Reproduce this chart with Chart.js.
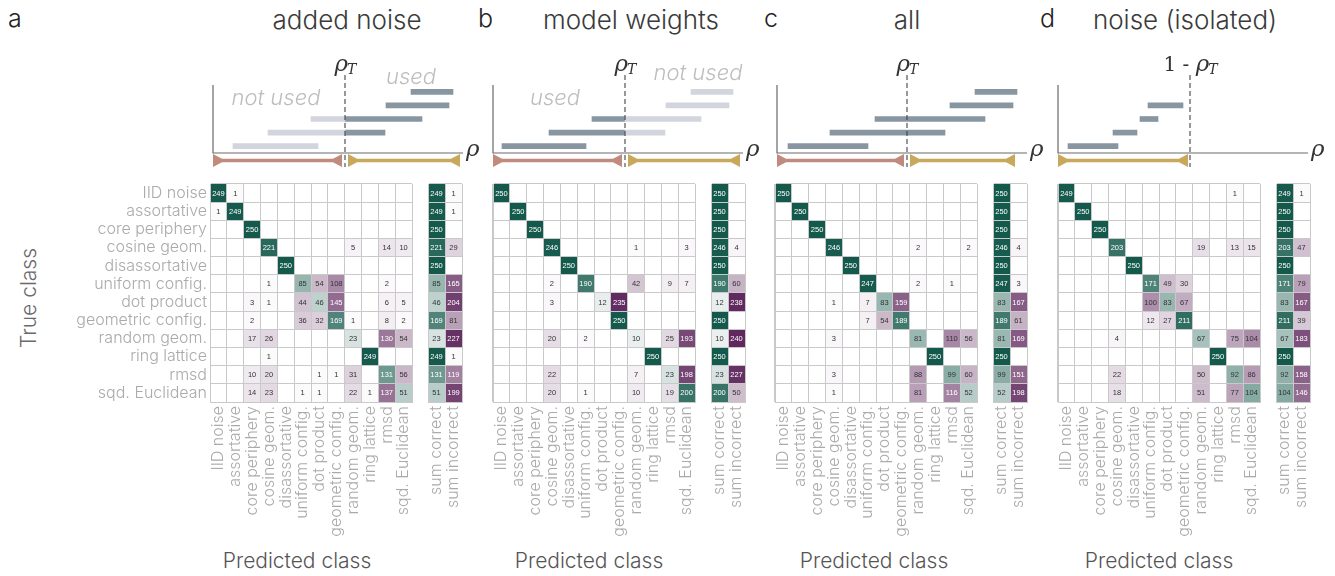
<!DOCTYPE html>
<html>
<head>
<meta charset="utf-8">
<script src="https://cdn.jsdelivr.net/npm/chart.js@4.4.0/dist/chart.umd.min.js"></script>
<style>
  body { margin: 0; background: #fff; width: 1335px; height: 576px; position: relative; overflow: hidden; font-family: Inter, Lato, sans-serif; }
  canvas { position: absolute; }
  .txt { position: absolute; white-space: nowrap; font-weight: 300; }
  .letter { font-size: 25px; color: #222; top: 3px; }
  .title { font-size: 26px; color: #3a3a3a; top: 4px; transform: translateX(-50%); }
  .pred { font-size: 21px; color: #555; top: 548px; transform: translateX(-50%); }
</style>
</head>
<body>
<div class="txt letter" style="left:8px">a</div>
<div class="txt letter" style="left:478px">b</div>
<div class="txt letter" style="left:764px">c</div>
<div class="txt letter" style="left:1040px">d</div>
<div class="txt" style="left:28px;top:298px;font-size:21px;color:#6a6a6a;transform:translate(-50%,-50%) rotate(-90deg)">True class</div>

<script>
// class names (rows = true class, cols = predicted class)
const classes = ['IID noise', 'assortative', 'core periphery', 'cosine geom.', 'disassortative',
  'uniform config.', 'dot product', 'geometric config.', 'random geom.', 'ring lattice', 'rmsd', 'sqd. Euclidean'];
const sumLabels = ['sum correct', 'sum incorrect'];
const panelTitles = ['added noise', 'model weights', 'all', 'noise (isolated)'];

// confusion matrices
const cmAddedNoise = [
  [249, 1, 0, 0, 0, 0, 0, 0, 0, 0, 0, 0],
  [1, 249, 0, 0, 0, 0, 0, 0, 0, 0, 0, 0],
  [0, 0, 250, 0, 0, 0, 0, 0, 0, 0, 0, 0],
  [0, 0, 0, 221, 0, 0, 0, 0, 5, 0, 14, 10],
  [0, 0, 0, 0, 250, 0, 0, 0, 0, 0, 0, 0],
  [0, 0, 0, 1, 0, 85, 54, 108, 0, 0, 2, 0],
  [0, 0, 3, 1, 0, 44, 46, 145, 0, 0, 6, 5],
  [0, 0, 2, 0, 0, 36, 32, 169, 1, 0, 8, 2],
  [0, 0, 17, 26, 0, 0, 0, 0, 23, 0, 130, 54],
  [0, 0, 0, 1, 0, 0, 0, 0, 0, 249, 0, 0],
  [0, 0, 10, 20, 0, 0, 1, 1, 31, 0, 131, 56],
  [0, 0, 14, 23, 0, 1, 1, 0, 22, 1, 137, 51]
];
const cmModelWeights = [
  [250, 0, 0, 0, 0, 0, 0, 0, 0, 0, 0, 0],
  [0, 250, 0, 0, 0, 0, 0, 0, 0, 0, 0, 0],
  [0, 0, 250, 0, 0, 0, 0, 0, 0, 0, 0, 0],
  [0, 0, 0, 246, 0, 0, 0, 0, 1, 0, 0, 3],
  [0, 0, 0, 0, 250, 0, 0, 0, 0, 0, 0, 0],
  [0, 0, 0, 2, 0, 190, 0, 0, 42, 0, 9, 7],
  [0, 0, 0, 3, 0, 0, 12, 235, 0, 0, 0, 0],
  [0, 0, 0, 0, 0, 0, 0, 250, 0, 0, 0, 0],
  [0, 0, 0, 20, 0, 2, 0, 0, 10, 0, 25, 193],
  [0, 0, 0, 0, 0, 0, 0, 0, 0, 250, 0, 0],
  [0, 0, 0, 22, 0, 0, 0, 0, 7, 0, 23, 198],
  [0, 0, 0, 20, 0, 1, 0, 0, 10, 0, 19, 200]
];
const cmAll = [
  [250, 0, 0, 0, 0, 0, 0, 0, 0, 0, 0, 0],
  [0, 250, 0, 0, 0, 0, 0, 0, 0, 0, 0, 0],
  [0, 0, 250, 0, 0, 0, 0, 0, 0, 0, 0, 0],
  [0, 0, 0, 246, 0, 0, 0, 0, 2, 0, 0, 2],
  [0, 0, 0, 0, 250, 0, 0, 0, 0, 0, 0, 0],
  [0, 0, 0, 0, 0, 247, 0, 0, 2, 0, 1, 0],
  [0, 0, 0, 1, 0, 7, 83, 159, 0, 0, 0, 0],
  [0, 0, 0, 0, 0, 7, 54, 189, 0, 0, 0, 0],
  [0, 0, 0, 3, 0, 0, 0, 0, 81, 0, 110, 56],
  [0, 0, 0, 0, 0, 0, 0, 0, 0, 250, 0, 0],
  [0, 0, 0, 3, 0, 0, 0, 0, 88, 0, 99, 60],
  [0, 0, 0, 1, 0, 0, 0, 0, 81, 0, 116, 52]
];
const cmNoiseIsolated = [
  [249, 0, 0, 0, 0, 0, 0, 0, 0, 0, 1, 0],
  [0, 250, 0, 0, 0, 0, 0, 0, 0, 0, 0, 0],
  [0, 0, 250, 0, 0, 0, 0, 0, 0, 0, 0, 0],
  [0, 0, 0, 203, 0, 0, 0, 0, 19, 0, 13, 15],
  [0, 0, 0, 0, 250, 0, 0, 0, 0, 0, 0, 0],
  [0, 0, 0, 0, 0, 171, 49, 30, 0, 0, 0, 0],
  [0, 0, 0, 0, 0, 100, 83, 67, 0, 0, 0, 0],
  [0, 0, 0, 0, 0, 12, 27, 211, 0, 0, 0, 0],
  [0, 0, 0, 4, 0, 0, 0, 0, 67, 0, 75, 104],
  [0, 0, 0, 0, 0, 0, 0, 0, 0, 250, 0, 0],
  [0, 0, 0, 22, 0, 0, 0, 0, 50, 0, 92, 86],
  [0, 0, 0, 18, 0, 0, 0, 0, 51, 0, 77, 104]
];

// rho intervals of the schematic bars (top to bottom), axis 0..250
const barsAddedNoise = [[198, 240], [173, 236], [98, 209], [55, 172], [20, 105]];
const barsModelWeights = [[198, 240], [173, 236], [99, 208], [56, 172], [9, 93]];
const barsAll = [[198, 240], [173, 236], [98, 208], [53, 168], [11, 91]];
const barsNoiseIsolated = [null, [90, 125], [82, 100], [55, 79], [10, 60]];
const rhoT = [132, 132, 130, 132];

const panels = [
  { cm: cmAddedNoise, bars: barsAddedNoise, mode: 'above', thrLabel: '',
    brackets: [[0, 129, '#c08a7c'], [135, 247, '#c8a85a']],
    notes: [['not used', 63, 20], ['used', 198, -1]] },
  { cm: cmModelWeights, bars: barsModelWeights, mode: 'below', thrLabel: '',
    brackets: [[0, 129, '#c08a7c'], [135, 247, '#c8a85a']],
    notes: [['used', 62, 20], ['not used', 205, -5]] },
  { cm: cmAll, bars: barsAll, mode: 'all', thrLabel: '',
    brackets: [[0, 127, '#c08a7c'], [133, 238, '#c8a85a']], notes: [] },
  { cm: cmNoiseIsolated, bars: barsNoiseIsolated, mode: 'all', thrLabel: '1 - ',
    brackets: [[0, 130, '#c8a85a']], notes: [] }
];

// page layout
const matrixLeft = [210, 493, 775, 1058];
const sumLeft = [428, 711, 993, 1276];
const axisLeft = [212.7, 492.5, 777, 1058];
const titleX = [347, 631, 907, 1185];
const predX = [297, 589, 874, 1159];
const cellTop = 184, matW = 202, matH = 218, sumW = 34, padTop = 12;

const DARK = '#8796a1', LIGHT = '#d3d5de';
const GREEN = [20, 90, 76], PURPLE = [91, 33, 89];

function mix(rgb, t) {
  const c = rgb.map(v => Math.round(255 + (v - 255) * t));
  return `rgb(${c[0]},${c[1]},${c[2]})`;
}

function addCanvas(left, top, w, h) {
  const c = document.createElement('canvas');
  c.width = w; c.height = h;
  c.style.left = left + 'px'; c.style.top = top + 'px';
  document.body.appendChild(c);
  return c;
}
function addText(cls, left, text) {
  const d = document.createElement('div');
  d.className = 'txt ' + cls;
  d.style.left = left + 'px';
  d.textContent = text;
  document.body.appendChild(d);
}

// paints heatmap cells at the points the scales placed
const cellLayer = {
  id: 'cellLayer',
  beforeDatasetsDraw(chart) {
    const { ctx, scales: { x, y } } = chart;
    const cw = x.width / x.getLabels().length;
    const ch = y.height / y.getLabels().length;
    ctx.save();
    ctx.font = '7.5px "Liberation Sans", Arial, sans-serif';
    ctx.textAlign = 'center';
    ctx.textBaseline = 'middle';
    chart.data.datasets.forEach((ds, di) => {
      chart.getDatasetMeta(di).data.forEach((pt, k) => {
        const v = ds.data[k].v;
        const t = Math.pow(v / 250, 0.75);
        ctx.fillStyle = mix(ds.cellRGB, t);
        ctx.fillRect(pt.x - cw / 2, pt.y - ch / 2, cw, ch);
        ctx.fillStyle = t > 0.55 ? '#fff' : '#333';
        ctx.fillText(String(v), pt.x, pt.y + 0.5);
      });
    });
    ctx.restore();
  }
};

function gridChart(canvas, xLabels, datasets, showY, yW, padL) {
  const tickFont = { family: 'Inter', size: 16, weight: '300' };
  return new Chart(canvas.getContext('2d'), {
    type: 'scatter',
    data: { datasets },
    options: {
      responsive: false, animation: false, events: [],
      layout: { padding: { top: padTop, right: 5, left: padL, bottom: 0 } },
      plugins: { legend: { display: false }, tooltip: { enabled: false } },
      elements: { point: { radius: 0 } },
      scales: {
        x: {
          type: 'category', labels: xLabels, offset: true, position: 'bottom',
          grid: { offset: true, color: '#c9c9c9', drawTicks: false, z: 1 },
          border: { color: '#c9c9c9', z: 1 },
          ticks: { autoSkip: false, minRotation: 90, maxRotation: 90, padding: 4, color: '#aaaaaa', font: tickFont },
          afterFit: s => { s.height = 150; s.paddingLeft = 0; s.paddingRight = 0; }
        },
        y: {
          type: 'category', labels: classes, offset: true, position: 'left',
          grid: { offset: true, color: '#c9c9c9', drawTicks: false, z: 1 },
          border: { color: '#c9c9c9', z: 1 },
          ticks: { display: showY, autoSkip: false, padding: 3, color: '#aaaaaa', font: tickFont },
          afterFit: s => { s.width = yW; s.paddingTop = 0; s.paddingBottom = 0; }
        }
      }
    },
    plugins: [cellLayer]
  });
}

function topChart(canvas, p, thr) {
  const labels = p.bars.map((b, i) => 'bar ' + (i + 1));
  const darkData = [], lightData = [];
  p.bars.forEach(b => {
    if (!b) { darkData.push(null); lightData.push(null); return; }
    const [s, e] = b;
    if (p.mode === 'all') { darkData.push([s, e]); lightData.push(null); return; }
    const lo = s < thr ? [s, Math.min(e, thr)] : null;
    const hi = e > thr ? [Math.max(s, thr), e] : null;
    if (p.mode === 'above') { darkData.push(hi); lightData.push(lo); }
    else { darkData.push(lo); lightData.push(hi); }
  });
  const decor = {
    id: 'decor',
    afterDatasetsDraw(chart) {
      const { ctx, chartArea: a, scales: { x } } = chart;
      ctx.save();
      // axes
      ctx.strokeStyle = '#6a6a6a'; ctx.lineWidth = 1.2;
      ctx.beginPath();
      ctx.moveTo(a.left, a.top); ctx.lineTo(a.left, a.bottom); ctx.lineTo(a.right, a.bottom);
      ctx.stroke();
      ctx.fillStyle = '#333';
      ctx.font = 'italic 23px "DejaVu Serif", serif';
      ctx.textBaseline = 'alphabetic';
      ctx.fillText('\u03c1', a.right + 3, a.bottom + 3);
      // brackets
      p.brackets.forEach(([s, e, col]) => {
        const x0 = x.getPixelForValue(s), x1 = x.getPixelForValue(e), y = a.bottom + 7.5;
        ctx.fillStyle = col;
        ctx.beginPath();
        ctx.moveTo(x0, y - 6.5); ctx.lineTo(x0 + 9, y - 1.8); ctx.lineTo(x1 - 9, y - 1.8); ctx.lineTo(x1, y - 6.5);
        ctx.lineTo(x1, y + 6.5); ctx.lineTo(x1 - 9, y + 1.8); ctx.lineTo(x0 + 9, y + 1.8); ctx.lineTo(x0, y + 6.5);
        ctx.closePath(); ctx.fill();
      });
      // threshold
      const xt = x.getPixelForValue(thr);
      ctx.strokeStyle = '#444'; ctx.lineWidth = 1.1; ctx.setLineDash([5, 3]);
      ctx.beginPath(); ctx.moveTo(xt, a.top - 10); ctx.lineTo(xt, a.bottom + 14); ctx.stroke();
      ctx.setLineDash([]);
      // threshold label
      ctx.fillStyle = '#333';
      ctx.font = '20px "DejaVu Serif", serif';
      const pre = p.thrLabel;
      const wPre = ctx.measureText(pre).width;
      ctx.font = 'italic 23px "DejaVu Serif", serif';
      const wRho = ctx.measureText('\u03c1').width;
      ctx.font = 'italic 14px "DejaVu Serif", serif';
      const wT = ctx.measureText('T').width;
      let lx = xt - (wPre + wRho + wT) / 2 + 1;
      ctx.font = '20px "DejaVu Serif", serif';
      ctx.fillText(pre, lx, a.top - 14); lx += wPre;
      ctx.font = 'italic 23px "DejaVu Serif", serif';
      ctx.fillText('\u03c1', lx, a.top - 14); lx += wRho;
      ctx.font = 'italic 14px "DejaVu Serif", serif';
      ctx.fillText('T', lx - 1, a.top - 11);
      // used / not used notes
      ctx.fillStyle = '#bdbdbd';
      ctx.font = 'italic 300 22px Inter, Lato, sans-serif';
      ctx.textAlign = 'center';
      p.notes.forEach(([t, v, dy]) => ctx.fillText(t, x.getPixelForValue(v), a.top + dy));
      ctx.restore();
    }
  };
  return new Chart(canvas.getContext('2d'), {
    type: 'bar',
    data: {
      labels,
      datasets: [
        { data: lightData, backgroundColor: LIGHT, grouped: false, barThickness: 5, borderWidth: 0 },
        { data: darkData, backgroundColor: DARK, grouped: false, barThickness: 5, borderWidth: 0 }
      ]
    },
    options: {
      indexAxis: 'y', responsive: false, animation: false, events: [],
      layout: { padding: { left: 3, right: 30, top: 50, bottom: 25 } },
      plugins: { legend: { display: false }, tooltip: { enabled: false } },
      scales: {
        x: { type: 'linear', min: 0, max: 250, display: false },
        y: { type: 'category', display: false, offset: true }
      }
    },
    plugins: [decor]
  });
}

panels.forEach((p, i) => {
  addText('title', titleX[i], panelTitles[i]);
  addText('pred', predX[i], 'Predicted class');

  // schematic of the rho intervals
  topChart(addCanvas(axisLeft[i] - 3, 35, 283, 143), p, rhoT[i]);

  // confusion matrix
  const good = [], bad = [];
  p.cm.forEach((row, r) => row.forEach((v, c) => {
    if (!v) return;
    (r === c ? good : bad).push({ x: classes[c], y: classes[r], v });
  }));
  const showY = i === 0;
  const yW = showY ? 190 : 2;
  const padL = showY ? 10 : 1;
  gridChart(addCanvas(matrixLeft[i] - yW - padL, cellTop - padTop, padL + yW + matW + 5, padTop + matH + 150),
    classes,
    [{ data: good, cellRGB: GREEN }, { data: bad, cellRGB: PURPLE }],
    showY, yW, padL);

  // row sums
  const correct = [], wrong = [];
  p.cm.forEach((row, r) => {
    const diag = row[r];
    const off = row.reduce((a, b) => a + b, 0) - diag;
    if (diag) correct.push({ x: sumLabels[0], y: classes[r], v: diag });
    if (off) wrong.push({ x: sumLabels[1], y: classes[r], v: off });
  });
  gridChart(addCanvas(sumLeft[i] - 3, cellTop - padTop, 3 + sumW + 5, padTop + matH + 150),
    sumLabels,
    [{ data: correct, cellRGB: GREEN }, { data: wrong, cellRGB: PURPLE }],
    false, 2, 1);
});
</script>
</body>
</html>
